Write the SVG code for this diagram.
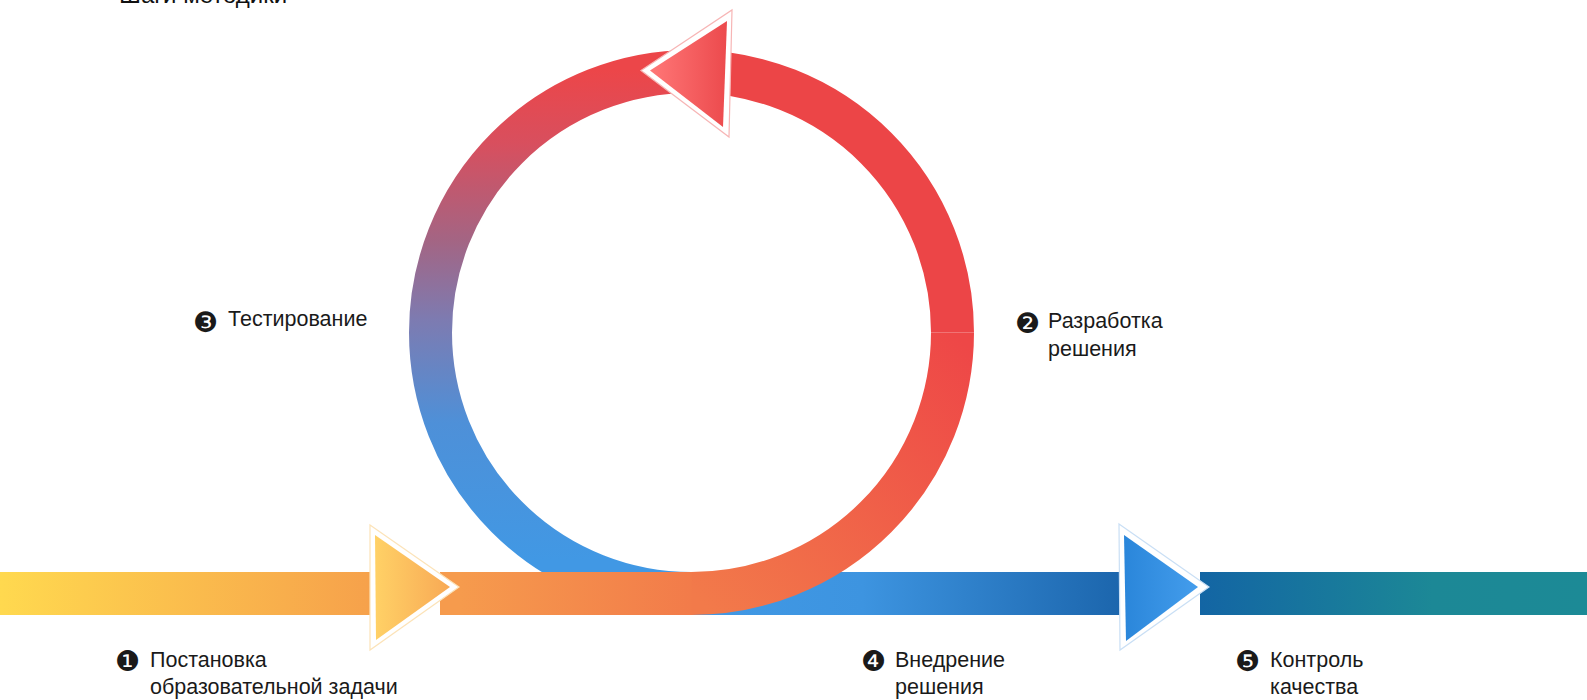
<svg xmlns="http://www.w3.org/2000/svg" width="1587" height="700" viewBox="0 0 1587 700">
<style>
.lbl{font-family:"Liberation Sans",Arial,sans-serif;font-size:21.5px;fill:#1a1a1a}
.num{font-family:"DejaVu Sans",sans-serif;font-size:28px;fill:#1a1a1a}
.ttl{font-family:"Liberation Sans",Arial,sans-serif;font-size:24px;fill:#111}
.ring{fill:none;stroke-width:43;stroke-linecap:butt}
.tri-out{fill:#fff;stroke-width:1.2;stroke-linejoin:miter}
</style>
<defs>
<linearGradient id="gBand1" gradientUnits="userSpaceOnUse" x1="0" y1="0" x2="371" y2="0">
<stop offset="0" stop-color="#FFD94F"/><stop offset="1" stop-color="#F6A14B"/>
</linearGradient>
<linearGradient id="gBand2" gradientUnits="userSpaceOnUse" x1="459" y1="0" x2="692" y2="0">
<stop offset="0" stop-color="#F69B4D"/><stop offset="1" stop-color="#F27B4A"/>
</linearGradient>
<linearGradient id="gLR" gradientUnits="userSpaceOnUse" x1="692" y1="593" x2="952" y2="332">
<stop offset="0" stop-color="#F27A4A"/><stop offset="1" stop-color="#EE4747"/>
</linearGradient>
<linearGradient id="gLeft" gradientUnits="userSpaceOnUse" x1="0" y1="70" x2="0" y2="560">
<stop offset="0" stop-color="#EC4649"/>
<stop offset="0.15" stop-color="#D84F5E"/>
<stop offset="0.35" stop-color="#A36584"/>
<stop offset="0.51" stop-color="#7D7BB1"/>
<stop offset="0.72" stop-color="#4E90D8"/>
<stop offset="1" stop-color="#4198E4"/>
</linearGradient>
<linearGradient id="gBlue" gradientUnits="userSpaceOnUse" x1="692" y1="0" x2="1119" y2="0">
<stop offset="0" stop-color="#4199E5"/><stop offset="0.4" stop-color="#3D94E0"/><stop offset="1" stop-color="#1C66AD"/>
</linearGradient>
<linearGradient id="gTeal" gradientUnits="userSpaceOnUse" x1="1200" y1="0" x2="1587" y2="0">
<stop offset="0" stop-color="#1365A4"/><stop offset="0.6" stop-color="#1C8896"/><stop offset="1" stop-color="#1C8A96"/>
</linearGradient>
<linearGradient id="gT1" gradientUnits="userSpaceOnUse" x1="375" y1="0" x2="450" y2="0">
<stop offset="0" stop-color="#FFD166"/><stop offset="1" stop-color="#F8A955"/>
</linearGradient>
<linearGradient id="gT2" gradientUnits="userSpaceOnUse" x1="1124" y1="0" x2="1198" y2="0">
<stop offset="0" stop-color="#2A86DA"/><stop offset="1" stop-color="#449DEC"/>
</linearGradient>
<linearGradient id="gT3" gradientUnits="userSpaceOnUse" x1="650" y1="0" x2="727" y2="0">
<stop offset="0" stop-color="#FF7777"/><stop offset="1" stop-color="#EC4A4D"/>
</linearGradient>
</defs>

<text class="ttl" x="119" y="3">Шаги методики</text>

<g id="connectors">
  <path class="ring" stroke="url(#gLeft)" d="M 691.5 71.5 A 261 261 0 0 0 430.5 332.5 A 261 261 0 0 0 691.5 593.5"/>
  <rect x="691" y="572" width="430" height="43" fill="url(#gBlue)"/>
  <rect x="1200" y="572" width="387" height="43" fill="url(#gTeal)"/>
  <rect x="0" y="572" width="371" height="43" fill="url(#gBand1)"/>
  <rect x="440" y="572" width="252" height="43" fill="url(#gBand2)"/>
  <path class="ring" stroke="url(#gLR)" d="M 691.5 593.5 A 261 261 0 0 0 952.5 332.5"/>
  <path class="ring" stroke="#EC4547" d="M 952.5 332.5 A 261 261 0 0 0 691.5 71.5"/>
</g>

<g id="arrow-top">
  <polygon class="tri-out" stroke="#F7B5B5" points="641,70.5 732,10 729,137"/>
  <polygon fill="url(#gT3)" points="650,70.5 727,21 723,127"/>
</g>
<g id="arrow-1">
  <polygon class="tri-out" stroke="#FCE3B8" points="370,525 459,587 370,650"/>
  <polygon fill="url(#gT1)" points="375,535 450,587 376,640"/>
</g>
<g id="arrow-2">
  <polygon class="tri-out" stroke="#C9DFF5" points="1119,524 1209,587 1120,650"/>
  <polygon fill="url(#gT2)" points="1124,535 1198,587 1126,641"/>
</g>

<g id="step1">
  <text class="num" x="115" y="670.5">❶</text>
  <text class="lbl" x="150" y="667">Постановка</text>
  <text class="lbl" x="150" y="694">образовательной задачи</text>
</g>
<g id="step2">
  <text class="num" x="1015" y="332.5">❷</text>
  <text class="lbl" x="1048" y="328">Разработка</text>
  <text class="lbl" x="1048" y="355.5">решения</text>
</g>
<g id="step3">
  <text class="num" x="193" y="331.5">❸</text>
  <text class="lbl" x="228" y="325.5">Тестирование</text>
</g>
<g id="step4">
  <text class="num" x="861" y="670.5">❹</text>
  <text class="lbl" x="895" y="667">Внедрение</text>
  <text class="lbl" x="895" y="694">решения</text>
</g>
<g id="step5">
  <text class="num" x="1235" y="670.5">❺</text>
  <text class="lbl" x="1270" y="667">Контроль</text>
  <text class="lbl" x="1270" y="694">качества</text>
</g>
</svg>
